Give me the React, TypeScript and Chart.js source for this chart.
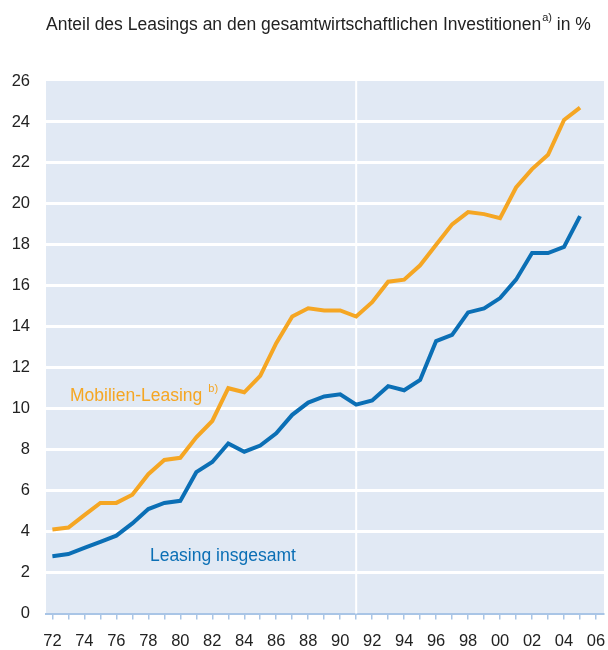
import React, { useEffect, useRef } from "react";
import { Chart, registerables } from "chart.js";

Chart.register(...registerables);

const years = [
  1972, 1973, 1974, 1975, 1976, 1977, 1978, 1979, 1980, 1981, 1982, 1983, 1984, 1985, 1986, 1987, 1988,
  1989, 1990, 1991, 1992, 1993, 1994, 1995, 1996, 1997, 1998, 1999, 2000, 2001, 2002, 2003, 2004, 2005,
];
const mobilienLeasing = [
  4.1, 4.2, 4.8, 5.4, 5.4, 5.8, 6.8, 7.5, 7.6, 8.6, 9.4, 11.0, 10.8, 11.6, 13.2, 14.5, 14.9, 14.8, 14.8,
  14.5, 15.2, 16.2, 16.3, 17.0, 18.0, 19.0, 19.6, 19.5, 19.3, 20.8, 21.7, 22.4, 24.1, 24.7,
];
const leasingInsgesamt = [
  2.8, 2.9, 3.2, 3.5, 3.8, 4.4, 5.1, 5.4, 5.5, 6.9, 7.4, 8.3, 7.9, 8.2, 8.8, 9.7, 10.3, 10.6, 10.7,
  10.2, 10.4, 11.1, 10.9, 11.4, 13.3, 13.6, 14.7, 14.9, 15.4, 16.3, 17.6, 17.6, 17.9, 19.4,
];
const xTickYears = Array.from({ length: 35 }, (_, i) => 1972 + i);
const breakYear = 1991;
const titleMain = "Anteil des Leasings an den gesamtwirtschaftlichen Investitionen";
const titleSup = "a)";
const titleEnd = " in %";
const labelMobilien = "Mobilien-Leasing";
const labelMobilienSup = "b)";
const labelInsgesamt = "Leasing insgesamt";

const ORANGE = "#F5A623";
const BLUE = "#0B6FB5";
const BG = "#E1E9F4";
const AXIS = "#A9C5E6";
const TEXT = "#222222";
const FONT = "'Liberation Sans', Arial, sans-serif";

export default function App() {
  const ref = useRef<HTMLCanvasElement | null>(null);

  useEffect(() => {
    document.body.style.margin = "0";
    const canvas = ref.current;
    if (!canvas) return;

    const decor = {
      id: "decor",
      beforeDraw(chart: any) {
        const { ctx, chartArea } = chart;
        ctx.save();
        ctx.fillStyle = BG;
        ctx.fillRect(chartArea.left, chartArea.top, chartArea.right - chartArea.left, chartArea.bottom - chartArea.top);
        ctx.restore();
      },
      beforeDatasetsDraw(chart: any) {
        const { ctx, chartArea, scales } = chart;
        const x = scales.x.getPixelForValue(breakYear);
        ctx.save();
        ctx.strokeStyle = "#ffffff";
        ctx.lineWidth = 2;
        ctx.beginPath();
        ctx.moveTo(x, chartArea.top);
        ctx.lineTo(x, chartArea.bottom);
        ctx.stroke();
        ctx.restore();
      },
      afterDatasetsDraw(chart: any) {
        const { ctx, scales } = chart;
        ctx.save();
        ctx.textBaseline = "alphabetic";
        ctx.textAlign = "left";
        ctx.fillStyle = ORANGE;
        ctx.font = `17.5px ${FONT}`;
        const mx = scales.x.getPixelForValue(1973.1);
        const my = scales.y.getPixelForValue(10.4);
        ctx.fillText(labelMobilien, mx, my);
        const mw = ctx.measureText(labelMobilien).width;
        ctx.font = `11px ${FONT}`;
        ctx.fillText(labelMobilienSup, mx + mw + 6, my - 9);
        ctx.fillStyle = BLUE;
        ctx.font = `17.5px ${FONT}`;
        ctx.fillText(labelInsgesamt, scales.x.getPixelForValue(1978.1), scales.y.getPixelForValue(2.55));
        ctx.restore();
      },
      afterDraw(chart: any) {
        const { ctx } = chart;
        ctx.save();
        ctx.fillStyle = TEXT;
        ctx.textAlign = "left";
        ctx.textBaseline = "alphabetic";
        ctx.font = `17.5px ${FONT}`;
        const x0 = 46;
        const y0 = 30;
        ctx.fillText(titleMain, x0, y0);
        const w1 = ctx.measureText(titleMain).width;
        ctx.font = `11px ${FONT}`;
        ctx.fillText(titleSup, x0 + w1 + 1, y0 - 9);
        const w2 = ctx.measureText(titleSup).width;
        ctx.font = `17.5px ${FONT}`;
        ctx.fillText(titleEnd, x0 + w1 + 1 + w2, y0);
        ctx.restore();
      },
    };

    const chart = new Chart(canvas, {
      type: "line",
      data: {
        labels: years,
        datasets: [
          {
            label: labelMobilien,
            data: years.map((y, i) => ({ x: y, y: mobilienLeasing[i] })),
            borderColor: ORANGE,
            borderWidth: 4,
            pointRadius: 0,
            tension: 0,
            fill: false,
          },
          {
            label: labelInsgesamt,
            data: years.map((y, i) => ({ x: y, y: leasingInsgesamt[i] })),
            borderColor: BLUE,
            borderWidth: 4,
            pointRadius: 0,
            tension: 0,
            fill: false,
          },
        ],
      },
      options: {
        animation: false,
        responsive: false,
        maintainAspectRatio: false,
        layout: { padding: { top: 81, right: 4, left: 0, bottom: 0 } },
        plugins: {
          legend: { display: false },
          tooltip: { enabled: false },
          title: { display: false },
        },
        scales: {
          x: {
            type: "linear",
            min: 1971.6,
            max: 2006.5,
            afterBuildTicks: (scale: any) => {
              scale.ticks = xTickYears.map((v) => ({ value: v }));
            },
            afterFit: (scale: any) => {
              scale.height = 36.5;
              scale.paddingLeft = 0;
              scale.paddingRight = 0;
            },
            ticks: {
              autoSkip: false,
              maxRotation: 0,
              padding: 12,
              color: TEXT,
              font: { family: FONT, size: 16.5 },
              callback: (v: any) => {
                const n = Number(v);
                return n % 2 === 0 ? String(n % 100).padStart(2, "0") : "";
              },
            },
            grid: {
              drawOnChartArea: false,
              drawTicks: true,
              tickLength: 6,
              color: AXIS,
              lineWidth: 1.5,
            },
            border: { display: true, color: AXIS, width: 2 },
          },
          y: {
            min: 0,
            max: 26,
            afterFit: (scale: any) => {
              scale.width = 46;
              scale.paddingTop = 0;
              scale.paddingBottom = 0;
            },
            ticks: {
              stepSize: 2,
              padding: 16,
              color: TEXT,
              font: { family: FONT, size: 16.5 },
            },
            grid: {
              drawTicks: false,
              color: (c: any) => (c.tick && (c.tick.value === 0 || c.tick.value === 26) ? "rgba(0,0,0,0)" : "#ffffff"),
              lineWidth: 3,
            },
            border: { display: false },
          },
        },
      },
      plugins: [decor],
    });

    return () => chart.destroy();
  }, []);

  return (
    <div style={{ position: "relative", width: 608, height: 650 }}>
      <canvas ref={ref} width={608} height={650} style={{ display: "block", width: 608, height: 650 }} />
    </div>
  );
}
